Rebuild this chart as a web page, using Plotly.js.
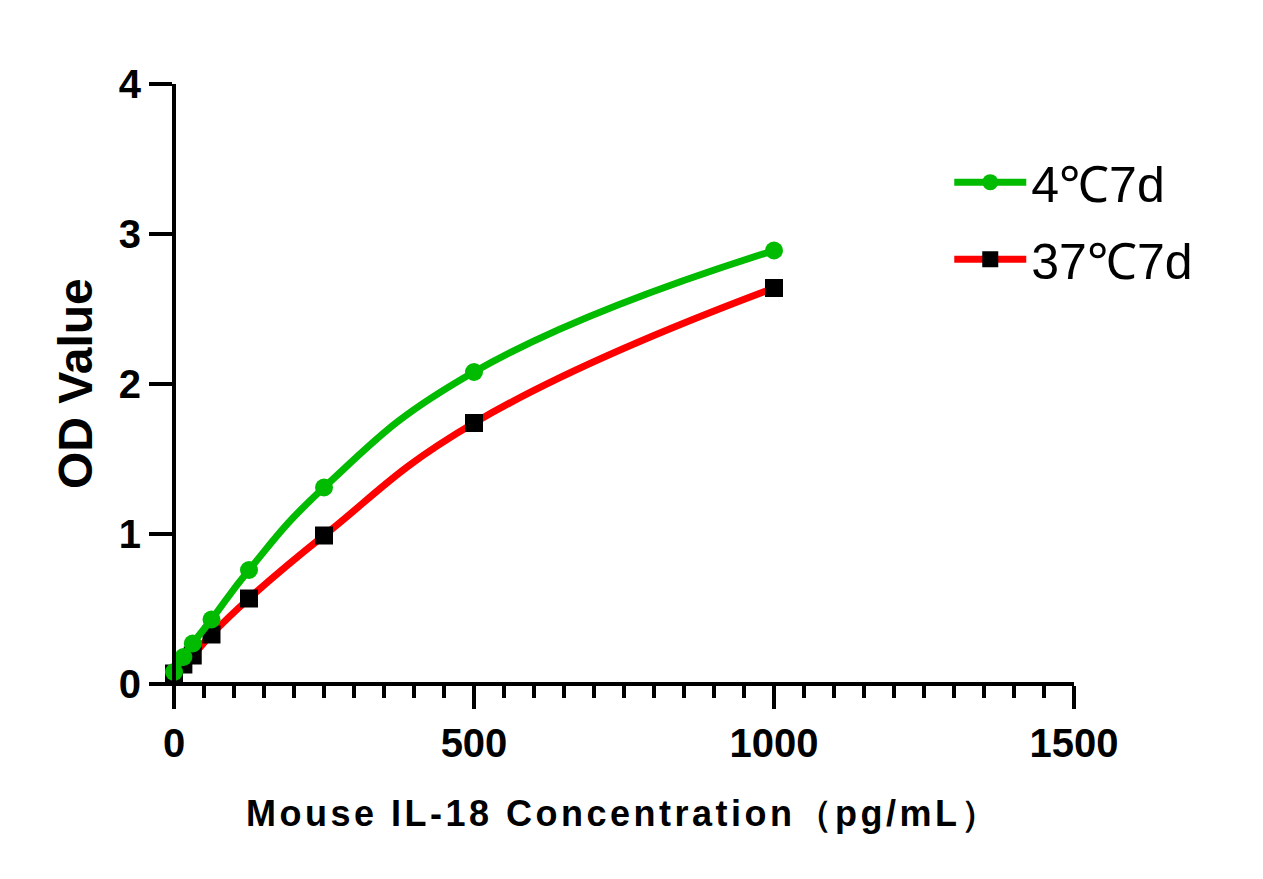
<!DOCTYPE html>
<html>
<head>
<meta charset="utf-8">
<script src="https://cdn.plot.ly/plotly-3.0.1.min.js"></script>
<style>
  body { margin: 0; background: #fff; }
</style>
</head>
<body>
<div id="grafico" style="width:1263px;height:879px;"></div>
<script>
// dados
let concentracao = [0, 15.625, 31.25, 62.5, 125, 250, 500, 1000]; // pg/mL
let od4C = [0.08, 0.18, 0.27, 0.43, 0.76, 1.31, 2.08, 2.89];   // 4℃7d
let od37C = [0.07, 0.13, 0.19, 0.33, 0.57, 0.99, 1.74, 2.64];  // 37℃7d
let nomes = ['4℃7d', '37℃7d'];
let xTicks = [0, 500, 1000, 1500];
let yTicks = [0, 1, 2, 3, 4];
let tituloX = 'Mouse IL-18 Concentration（pg/mL）';
let tituloY = 'OD Value';

let fonte = 'Liberation Sans, Arial, sans-serif';

var trace1 = {
  x: concentracao,
  y: od4C,
  type: 'scatter',
  mode: 'lines+markers',
  name: nomes[0],
  legendgroup: 'a',
  legendrank: 1,
  line: { color: '#00bb00', width: 7, shape: 'spline', smoothing: 1.3 },
  marker: { color: '#00bb00', size: 18, symbol: 'circle' },
  cliponaxis: false
};

var trace2 = {
  x: concentracao,
  y: od37C,
  type: 'scatter',
  mode: 'lines+markers',
  name: nomes[1],
  legendgroup: 'b',
  legendrank: 2,
  line: { color: '#ff0000', width: 7, shape: 'spline', smoothing: 1.3 },
  marker: { color: '#000000', size: 18, symbol: 'square' },
  cliponaxis: false
};

// verde desenhado por cima
var data = [trace2, trace1];

var layout = {
  width: 1263,
  height: 879,
  margin: { l: 150, r: 189, t: 84, b: 171 },
  paper_bgcolor: '#fff',
  plot_bgcolor: '#fff',
  font: { family: fonte, color: '#000' },
  showlegend: true,
  legend: {
    x: 0.865, y: 0.905, xanchor: 'left', yanchor: 'top',
    traceorder: 'grouped',
    tracegroupgap: 9,
    itemwidth: 72,
    font: { size: 50, family: fonte },
    bgcolor: 'rgba(0,0,0,0)'
  },
  xaxis: {
    range: [-40, 1500],
    anchor: 'free',
    position: 0.16 / 4.16,
    showgrid: false,
    zeroline: false,
    showline: true,
    linewidth: 4,
    linecolor: '#000',
    ticks: 'outside',
    ticklen: 23,
    tickwidth: 4,
    tickcolor: '#000',
    tickvals: xTicks,
    tickfont: { size: 40, family: fonte, weight: 'bold' },
    minor: { dtick: 50, ticks: 'outside', ticklen: 12, tickwidth: 4, tickcolor: '#000', showgrid: false }
  },
  yaxis: {
    range: [-0.16, 4],
    anchor: 'free',
    position: 40 / 1540,
    showgrid: false,
    zeroline: false,
    showline: true,
    linewidth: 4,
    linecolor: '#000',
    ticks: 'outside',
    ticklen: 23,
    tickwidth: 4,
    tickcolor: '#000',
    tickvals: yTicks,
    tickfont: { size: 40, family: fonte, weight: 'bold' }
  },
  annotations: [
    {
      text: tituloX,
      xref: 'paper', yref: 'paper',
      x: (623 - 150) / 924, y: (708 - 813) / 624,
      xanchor: 'center', yanchor: 'middle',
      showarrow: false,
      font: { size: 36, family: fonte, weight: 'bold' }
    },
    {
      text: tituloY,
      xref: 'paper', yref: 'paper',
      x: (75 - 150) / 924, y: (708 - 384) / 624,
      xanchor: 'center', yanchor: 'middle',
      textangle: -90,
      showarrow: false,
      font: { size: 48, family: fonte, weight: 'bold' }
    }
  ]
};

Plotly.newPlot('grafico', data, layout, { staticPlot: true }).then(function () {
  // espacamento de letras so no titulo do eixo x
  let notas = document.querySelectorAll('.annotation-text');
  notas[0].style.letterSpacing = '3.5px';
});
</script>
</body>
</html>
